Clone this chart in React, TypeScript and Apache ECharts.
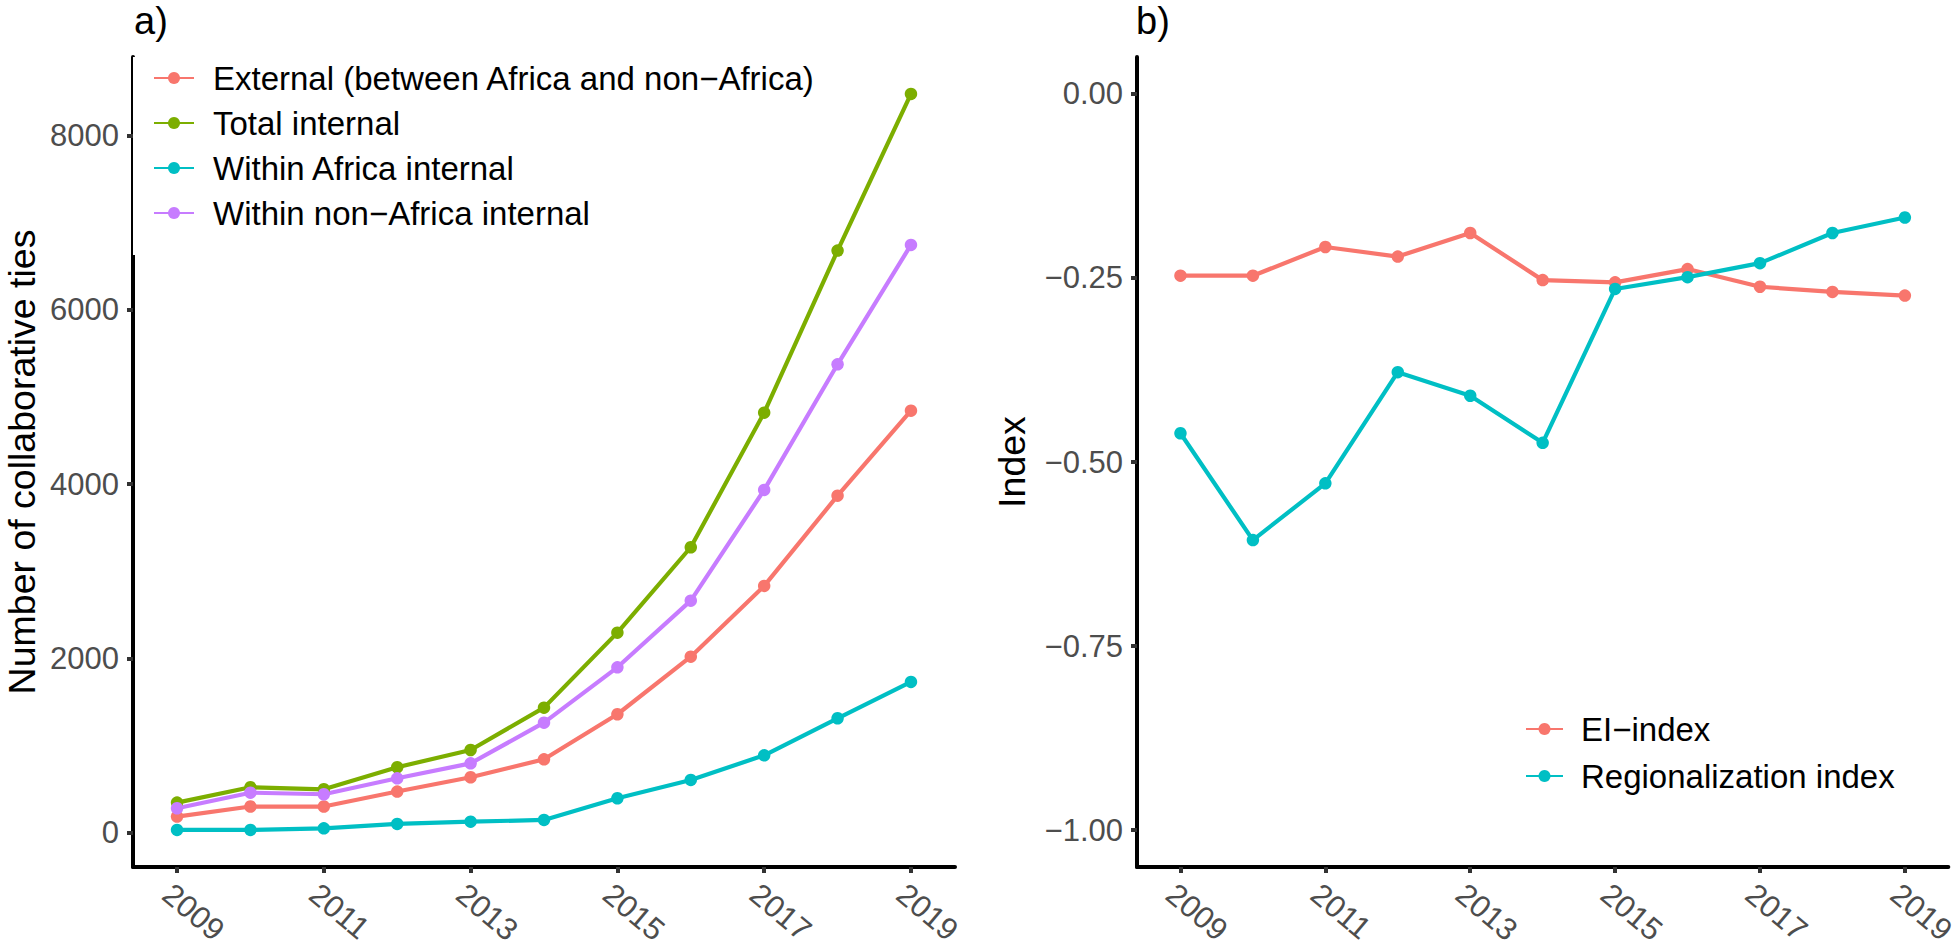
import React, { useEffect, useRef } from "react";
import * as echarts from "echarts";

const years = [2009, 2010, 2011, 2012, 2013, 2014, 2015, 2016, 2017, 2018, 2019];
const yearTicks = [2009, 2011, 2013, 2015, 2017, 2019];

const external = [185, 300, 300, 472, 636, 842, 1359, 2020, 2832, 3868, 4844];
const totalInternal = [345, 521, 498, 751, 949, 1435, 2296, 3276, 4821, 6681, 8479];
const withinAfrica = [32, 32, 50, 100, 126, 146, 395, 605, 888, 1313, 1730];
const withinNonAfrica = [280, 459, 441, 624, 796, 1263, 1898, 2663, 3934, 5376, 6746];
const tiesTicks = [0, 2000, 4000, 6000, 8000];

const eiIndex = [-0.247, -0.247, -0.208, -0.221, -0.189, -0.253, -0.256, -0.238, -0.262, -0.269, -0.274];
const regionalization = [-0.461, -0.606, -0.529, -0.378, -0.41, -0.474, -0.265, -0.249, -0.23, -0.189, -0.168];
const indexTicks = [-1, -0.75, -0.5, -0.25, 0];

const namesA = [
  "External (between Africa and non\u2212Africa)",
  "Total internal",
  "Within Africa internal",
  "Within non\u2212Africa internal",
];
const namesB = ["EI\u2212index", "Regionalization index"];

const RED = "#F8766D";
const GREEN = "#7CAE00";
const CYAN = "#00BFC4";
const PURPLE = "#C77CFF";

const FONT = "'Liberation Sans', Arial, Helvetica, sans-serif";

function pairs(vals: number[]) {
  return years.map((y, i) => [y, vals[i]]);
}

function lineSeries(name: string, vals: number[], color: string, idx: number) {
  return {
    type: "line",
    name,
    data: pairs(vals),
    xAxisIndex: idx,
    yAxisIndex: idx,
    symbol: "circle",
    symbolSize: 12.5,
    color,
    itemStyle: { color },
    lineStyle: { color, width: 4.2 },
    emphasis: { disabled: true },
  };
}

const axisLineStyle = { show: true, lineStyle: { color: "#000", width: 4 } };
const tickStyle = { show: true, length: 6, lineStyle: { color: "#333", width: 4 } };

function xAxis(gridIndex: number) {
  return {
    type: "value",
    gridIndex,
    min: 2008.4,
    max: 2019.6,
    axisLine: { ...axisLineStyle, onZero: false },
    axisTick: { ...tickStyle, customValues: yearTicks },
    splitLine: { show: false },
    axisLabel: {
      customValues: yearTicks,
      formatter: (v: number) => String(v),
      rotate: -40,
      align: "left",
      verticalAlign: "top",
      margin: 11,
      fontSize: 31,
      fontFamily: FONT,
      color: "#4D4D4D",
    },
  };
}

export default function App() {
  const ref = useRef<HTMLDivElement>(null);
  useEffect(() => {
    if (!ref.current) return;
    const chart = echarts.init(ref.current, null, { renderer: "svg" });
    chart.setOption({
      animation: false,
      backgroundColor: "#fff",
      textStyle: { fontFamily: FONT },
      graphic: [
        {
          type: "text",
          x: 134,
          y: 2,
          style: { text: "a)", font: `38px ${FONT}`, fill: "#000", verticalAlign: "top" },
        },
        {
          type: "text",
          x: 1136,
          y: 2,
          style: { text: "b)", font: `38px ${FONT}`, fill: "#000", verticalAlign: "top" },
        },
      ],
      grid: [
        { left: 133, top: 57, width: 822, height: 810 },
        { left: 1137, top: 57, width: 812, height: 810 },
      ],
      xAxis: [xAxis(0), xAxis(1)],
      yAxis: [
        {
          type: "value",
          gridIndex: 0,
          min: -394,
          max: 8903,
          axisLine: { ...axisLineStyle, onZero: false },
          axisTick: { ...tickStyle, customValues: tiesTicks },
          splitLine: { show: false },
          axisLabel: {
            customValues: tiesTicks,
            formatter: (v: number) => String(v),
            margin: 14,
            fontSize: 31,
            fontFamily: FONT,
            color: "#4D4D4D",
          },
          name: "Number of collaborative ties",
          nameLocation: "middle",
          nameGap: 93,
          nameTextStyle: { fontSize: 37.5, lineHeight: 37, color: "#000", fontFamily: FONT },
        },
        {
          type: "value",
          gridIndex: 1,
          min: -1.05,
          max: 0.05,
          axisLine: { ...axisLineStyle, onZero: false },
          axisTick: { ...tickStyle, customValues: indexTicks },
          splitLine: { show: false },
          axisLabel: {
            customValues: indexTicks,
            formatter: (v: number) => v.toFixed(2).replace("-", "\u2212").replace("\u22120.00", "0.00"),
            margin: 14,
            fontSize: 31,
            fontFamily: FONT,
            color: "#4D4D4D",
          },
          name: "Index",
          nameLocation: "middle",
          nameGap: 107,
          nameTextStyle: { fontSize: 37.5, lineHeight: 37, color: "#000", fontFamily: FONT },
        },
      ],
      legend: [
        {
          data: namesA,
          orient: "vertical",
          left: 133,
          top: 57,
          padding: [4, 12, 25, 20],
          backgroundColor: "#fff",
          z: 10,
          itemWidth: 40,
          itemHeight: 15,
          itemGap: 11,
          selectedMode: false,
          textStyle: { fontSize: 33, lineHeight: 34, color: "#000", fontFamily: FONT, padding: [0, 0, 0, 14] },
        },
        {
          data: namesB,
          orient: "vertical",
          left: 1525,
          top: 712,
          padding: 0,
          itemWidth: 37,
          itemHeight: 15,
          itemGap: 13,
          selectedMode: false,
          textStyle: { fontSize: 33, lineHeight: 34, color: "#000", fontFamily: FONT, padding: [0, 0, 0, 13] },
        },
      ],
      series: [
        lineSeries(namesA[0], external, RED, 0),
        lineSeries(namesA[1], totalInternal, GREEN, 0),
        lineSeries(namesA[2], withinAfrica, CYAN, 0),
        lineSeries(namesA[3], withinNonAfrica, PURPLE, 0),
        lineSeries(namesB[0], eiIndex, RED, 1),
        lineSeries(namesB[1], regionalization, CYAN, 1),
      ],
    });
    return () => chart.dispose();
  }, []);
  return (
    <div
      ref={ref}
      style={{ position: "fixed", left: 0, top: 0, width: 1960, height: 952, background: "#fff" }}
    />
  );
}
